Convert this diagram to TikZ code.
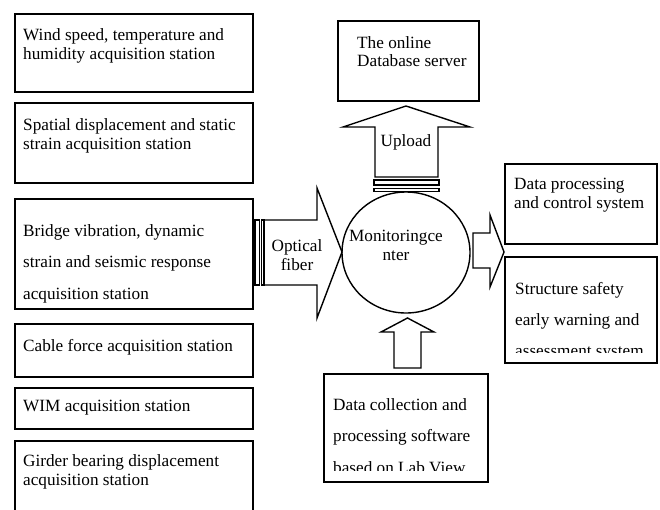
\documentclass[tikz,border=0pt]{standalone}
\usepackage{fontspec}
\setmainfont{Liberation Serif}
\usetikzlibrary{shapes.geometric}
\tikzset{
  boxl/.style={draw, line width=1.6pt},
  arr/.style={draw, line width=1.4pt, line join=miter},
  txt/.style={anchor=base west, inner sep=0pt, font=\fontsize{17.2}{20}\selectfont},
  ctxt/.style={anchor=base, inner sep=0pt, font=\fontsize{17.2}{20}\selectfont},
  frame/.style={rectangle, draw, line width=1.7pt, anchor=north west, inner sep=0pt}
}
\begin{document}
\begin{tikzpicture}[x=1pt,y=-1pt]
\clip (0,0) rectangle (660,509);
\fill[white] (0,0) rectangle (660,509);

% left boxes
\node[frame, minimum width=238pt, minimum height=78pt] (b1) at (14,13) {};
\node[frame, minimum width=238pt, minimum height=80pt] (b2) at (14,102) {};
\node[frame, minimum width=238pt, minimum height=110pt] (b3) at (14,198) {};
\node[frame, minimum width=238pt, minimum height=53pt] (b4) at (14,323) {};
\node[frame, minimum width=238pt, minimum height=41pt] (b5) at (14,387) {};
\node[frame, minimum width=238pt, minimum height=90pt] (b6) at (14,440) {};

\node[txt] (t1a) at (23,40.7) {Wind speed, temperature and};
\node[txt] (t1b) at (23,59.3) {humidity acquisition station};
\node[txt] (t2a) at (23,130.7) {Spatial displacement and static};
\node[txt] (t2b) at (23,149.3) {strain acquisition station};
\node[txt] (t3a) at (23,236) {Bridge vibration, dynamic};
\node[txt] (t3b) at (23,267.5) {strain and seismic response};
\node[txt] (t3c) at (23,299) {acquisition station};
\node[txt] (t4) at (23,351) {Cable force acquisition station};
\node[txt] (t5) at (23,411.5) {WIM acquisition station};
\node[txt] (t6a) at (23,466.7) {Girder bearing displacement};
\node[txt] (t6b) at (23,485) {acquisition station};

% optical fiber arrow
\draw[arr] (255,220) rectangle (259.5,285);
\draw[arr] (261.5,220) rectangle (264,285);
\draw[arr] (264,220) -- (317,220) -- (317,188) -- (342,252) -- (317,318) -- (317,285) -- (264,285) -- cycle;
\node[ctxt] (of1) at (297,251) {Optical};
\node[ctxt] (of2) at (297,270) {fiber};

% monitoring center
\node[ellipse, draw, line width=1.4pt, minimum width=128pt, minimum height=121pt, inner sep=0pt] (mc) at (406,252.5) {};
\node[ctxt] (mc1) at (396,241.7) {Monitoringce};
\node[ctxt] (mc2) at (396,260) {nter};

% upload arrow
\draw[arr] (375,177) -- (375,127) -- (343,127) -- (406,106) -- (470,127) -- (438,127) -- (438,177) -- cycle;
\draw[arr] (374,180) rectangle (439,185);
\draw[arr] (374,188.3) rectangle (439,191.7);
\node[ctxt] (up) at (406,146.7) {Upload};

% database box
\node[frame, minimum width=141pt, minimum height=80pt] (db) at (337,20) {};
\node[txt] (db1) at (357,48) {The online};
\node[txt] (db2) at (357,66.7) {Database server};

% right arrow
\draw[arr] (473,233) -- (490,233) -- (490,215) -- (504,252) -- (490,287) -- (490,268) -- (473,268) -- cycle;

% right boxes
\node[frame, minimum width=152pt, minimum height=80pt] (dp) at (504,163) {};
\node[txt] (dp1) at (514,189) {Data processing};
\node[txt] (dp2) at (514,208) {and control system};

\node[frame, minimum width=152pt, minimum height=106pt] (ss) at (504,256) {};
\node[txt] (ss1) at (515,294) {Structure safety};
\node[txt] (ss2) at (515,325) {early warning and};
\begin{scope}
\clip (505,330) rectangle (655,352.5);
\node[txt] (ss3) at (515,356) {assessment system};
\end{scope}

% bottom arrow
\draw[arr] (394,368) -- (394,332) -- (381,332) -- (407.5,318) -- (434,332) -- (421,332) -- (421,368) -- cycle;

% bottom box
\node[frame, minimum width=164pt, minimum height=108pt] (lv) at (323,373) {};
\node[txt] (lv1) at (333,410) {Data collection and};
\node[txt] (lv2) at (333,441.7) {processing software};
\begin{scope}
\clip (324,445) rectangle (486,470);
\node[txt] (lv3) at (333,473.5) {based on Lab View};
\end{scope}
\end{tikzpicture}
\end{document}
